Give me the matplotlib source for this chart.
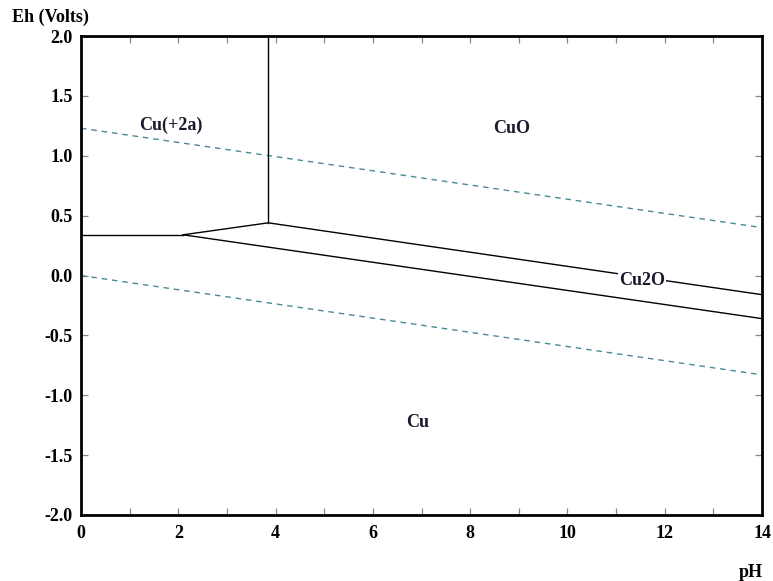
"""Eh-pH (Pourbaix) diagram for copper."""

import matplotlib
matplotlib.use("Agg")
import matplotlib.pyplot as plt
from matplotlib.ticker import MultipleLocator

# stability boundaries (pH, Eh)
cu2_cu_ph = [0.0, 2.1]
cu2_cu_eh = [0.34, 0.34]
cuo_cu2o_ph = [2.1, 3.85, 14.0]
cuo_cu2o_eh = [0.34, 0.44, -0.16]
cu2o_cu_ph = [2.1, 14.0]
cu2o_cu_eh = [0.34, -0.36]
cu2_cuo_ph = [3.85, 3.85]
cu2_cuo_eh = [0.44, 2.0]

# water stability limits
o2_ph = [0.0, 14.0]
o2_eh = [1.23, 0.40]
h2_ph = [0.0, 14.0]
h2_eh = [0.0, -0.83]

# region labels
labels = ["Cu(+2a)", "CuO", "Cu2O", "Cu"]
label_ph = [1.85, 8.86, 11.53, 6.93]
label_eh = [1.25, 1.23, -0.04, -1.23]

plt.rcParams["font.family"] = ["Liberation Serif", "DejaVu Serif"]
plt.rcParams["font.weight"] = "bold"
plt.rcParams["font.size"] = 13

fig = plt.figure(figsize=(7.73, 5.81), dpi=100)
ax = fig.add_axes([0.1048, 0.1136, 0.881, 0.8244])

water = "#4a8a96"
ax.plot(o2_ph, o2_eh, color=water, lw=1.0, ls=(0, (4, 3.5)))
ax.plot(h2_ph, h2_eh, color=water, lw=1.0, ls=(0, (4, 3.5)))

for xs, ys in [(cu2_cu_ph, cu2_cu_eh), (cuo_cu2o_ph, cuo_cu2o_eh),
               (cu2o_cu_ph, cu2o_cu_eh), (cu2_cuo_ph, cu2_cuo_eh)]:
    ax.plot(xs, ys, color="black", lw=1.0)

for text, x, y in zip(labels, label_ph, label_eh):
    bbox = None
    if text == "Cu2O":
        bbox = dict(facecolor="white", edgecolor="none", pad=0.5)
    ax.text(x, y, text, ha="center", va="center", color="#1a1a2e",
            fontweight="bold", bbox=bbox)

ax.set_xlim(0, 14)
ax.set_ylim(-2.0, 2.0)
ax.xaxis.set_major_locator(MultipleLocator(2))
ax.xaxis.set_minor_locator(MultipleLocator(1))
ax.yaxis.set_major_locator(MultipleLocator(0.5))
ax.yaxis.set_major_formatter(matplotlib.ticker.FormatStrFormatter("%.1f"))
ax.tick_params(which="both", direction="in", top=True, right=True,
               color="#888888", width=0.9, length=5, pad=6)
ax.tick_params(axis="x", which="major", pad=7)
for sp in ax.spines.values():
    sp.set_linewidth(2.0)

fig.text(0.065, 0.97, "Eh (Volts)", ha="center", va="center", fontweight="bold")
fig.text(0.971, 0.015, "pH", ha="center", va="center", fontweight="bold")

fig.savefig("out.png", dpi=100)
